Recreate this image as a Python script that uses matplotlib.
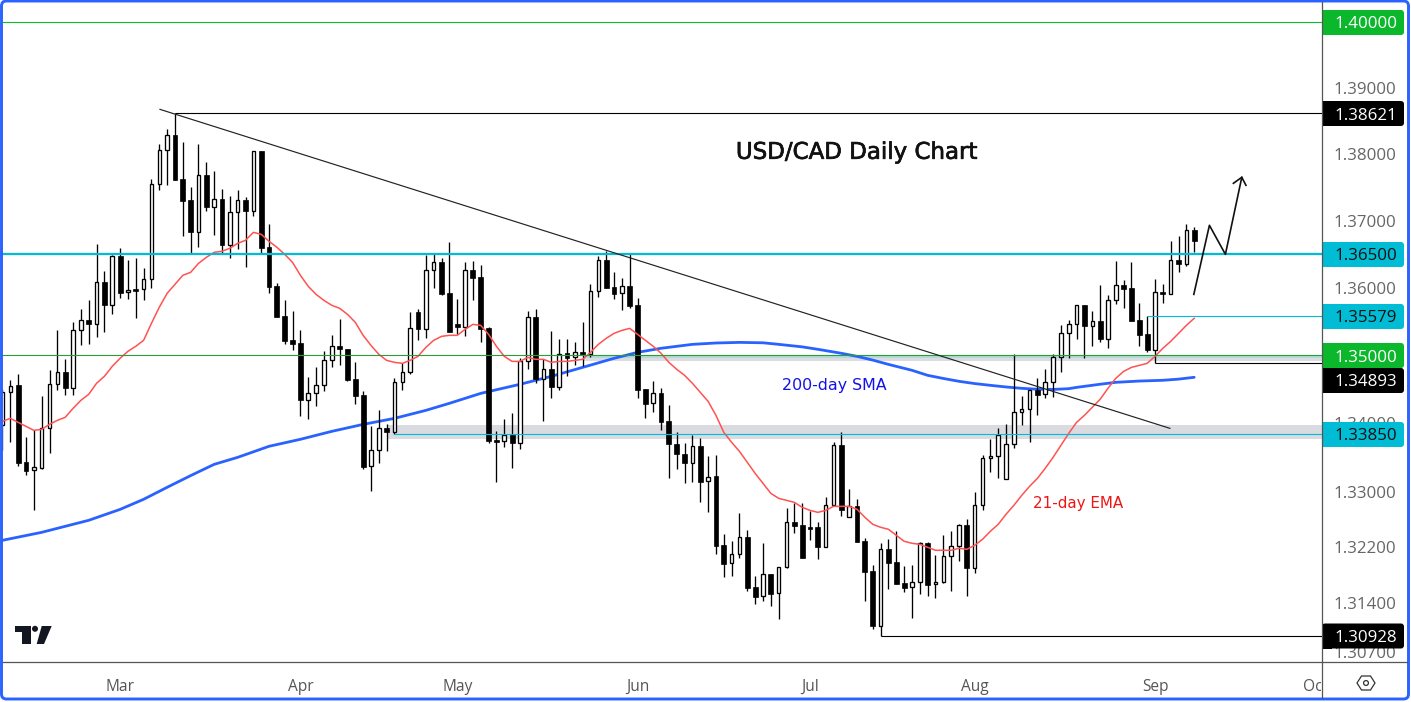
import matplotlib
matplotlib.use("Agg")
import matplotlib.pyplot as plt
import matplotlib.patheffects as pe
import numpy as np
from matplotlib.patches import FancyBboxPatch, Rectangle, Polygon, Circle
from matplotlib.transforms import Bbox, IdentityTransform
from matplotlib.ticker import NullLocator

opens = [1.33973,1.34456,1.34559,1.33433,1.33317,1.33346,1.33929,1.34574,1.34750,1.34515,
1.35368,1.35517,1.35457,1.36080,1.35739,1.36466,1.35931,1.35975,1.35975,1.36125,
1.37543,1.38054,1.38280,1.37618,1.37302,1.36824,1.37678,1.37197,1.37317,1.36630,
1.37123,1.37302,1.37138,1.38039,1.36601,1.36020,1.35577,1.35221,1.35177,1.34339,
1.34441,1.34559,1.34926,1.35133,1.35089,1.34647,1.34412,1.33375,1.33608,1.33929,
1.33871,1.34603,1.34750,1.35635,1.35383,1.36258,1.36376,1.35916,1.35457,1.35413,
1.36258,1.36155,1.35398,1.33754,1.33739,1.33827,1.33710,1.34911,1.35562,1.34647,
1.34794,1.34529,1.35030,1.34970,1.35044,1.35015,1.35945,1.36406,1.36005,1.35916,
1.36020,1.35739,1.34499,1.34295,1.34441,1.34032,1.33696,1.33550,1.33418,1.33667,
1.33157,1.33230,1.32231,1.31971,1.32101,1.32346,1.31626,1.31497,1.31812,1.31540,
1.31913,1.32563,1.32520,1.32491,1.32491,1.32202,1.32809,1.33681,1.32635,1.32794,
1.32289,1.31856,1.31067,1.32173,1.31985,1.31684,1.31626,1.31698,1.32260,1.31669,
1.31698,1.32072,1.32217,1.32520,1.31899,1.32809,1.33491,1.33520,1.33186,1.33696,
1.34163,1.34207,1.34485,1.34427,1.34603,1.34970,1.35324,1.35457,1.35739,1.35428,
1.35502,1.35236,1.35812,1.36035,1.35990,1.35517,1.35309,1.35074,1.35931,1.35901,
1.36406,1.36347,1.36854]
highs = [1.34499,1.34633,1.34720,1.33798,1.33900,1.34398,1.34779,1.35368,1.34941,1.35487,
1.35680,1.35812,1.36645,1.36243,1.36481,1.36586,1.36406,1.36436,1.36288,1.37618,
1.38144,1.38370,1.38621,1.38174,1.37497,1.38144,1.37873,1.37738,1.37467,1.37362,
1.37452,1.37347,1.38039,1.38039,1.36944,1.36065,1.35812,1.35650,1.35368,1.34677,
1.34823,1.35059,1.35295,1.35532,1.35089,1.34897,1.34470,1.33958,1.34192,1.33987,
1.34662,1.34882,1.35635,1.35680,1.36481,1.36511,1.36436,1.36675,1.35827,1.36376,
1.36391,1.36332,1.35413,1.33885,1.34061,1.34148,1.34956,1.35650,1.35680,1.34941,
1.35354,1.35236,1.35236,1.35191,1.35487,1.36050,1.36466,1.36541,1.36228,1.36140,
1.36511,1.35842,1.34499,1.34618,1.34515,1.34265,1.33871,1.33710,1.33827,1.33783,
1.33520,1.33535,1.32389,1.32289,1.32693,1.32447,1.31784,1.32260,1.31812,1.31913,
1.32765,1.32838,1.32838,1.32722,1.32563,1.32925,1.33725,1.33871,1.33041,1.32896,
1.32332,1.31942,1.32260,1.32317,1.32433,1.31928,1.31942,1.32274,1.32274,1.32086,
1.32375,1.32433,1.32534,1.32606,1.32997,1.33535,1.33769,1.33929,1.33987,1.35015,
1.34398,1.34485,1.34662,1.34794,1.35015,1.35442,1.35517,1.35739,1.35739,1.35650,
1.36035,1.35886,1.36391,1.36110,1.36376,1.35769,1.35577,1.36125,1.36050,1.36690,
1.36765,1.36944,1.36899]
lows = [1.33608,1.33725,1.33375,1.33244,1.32736,1.33331,1.33564,1.34485,1.34412,1.34412,
1.35147,1.35162,1.35265,1.35339,1.35606,1.35842,1.35827,1.35547,1.35812,1.35990,
1.37452,1.37528,1.37603,1.36765,1.36511,1.36601,1.37138,1.36780,1.36511,1.36436,
1.36571,1.36303,1.37063,1.36496,1.35916,1.35562,1.35162,1.35074,1.34104,1.34061,
1.34251,1.34470,1.34823,1.34852,1.34618,1.34280,1.33331,1.33012,1.33418,1.33593,
1.33842,1.34485,1.34720,1.35221,1.35250,1.35990,1.35886,1.35339,1.35309,1.35280,
1.35812,1.35191,1.33710,1.33142,1.33652,1.33346,1.33623,1.34794,1.34589,1.34032,
1.34368,1.34485,1.34691,1.34852,1.34838,1.34970,1.35856,1.35990,1.35827,1.35665,
1.35695,1.34368,1.34075,1.34163,1.33900,1.33200,1.33331,1.33128,1.33142,1.32852,
1.32707,1.32101,1.31770,1.31784,1.32043,1.31569,1.31382,1.31426,1.31354,1.31167,
1.31899,1.32404,1.32043,1.32303,1.32029,1.32202,1.32809,1.32650,1.32635,1.32274,
1.31426,1.31024,1.30928,1.31597,1.31669,1.31554,1.31182,1.31526,1.31497,1.31469,
1.31684,1.31569,1.32000,1.31497,1.31827,1.32736,1.33288,1.33200,1.33186,1.33637,
1.33973,1.33725,1.34119,1.34368,1.34383,1.34750,1.34956,1.35236,1.34956,1.35133,
1.35191,1.35104,1.35754,1.35695,1.35502,1.35133,1.35044,1.34893,1.35769,1.35901,
1.36228,1.36317,1.36526]
closes = [1.34456,1.34544,1.33418,1.33302,1.33360,1.33929,1.34574,1.34750,1.34515,1.35368,
1.35517,1.35457,1.36080,1.35739,1.36466,1.35916,1.35960,1.35945,1.36125,1.37543,
1.38054,1.38280,1.37603,1.37287,1.36824,1.37678,1.37197,1.37317,1.36630,1.37123,
1.37302,1.37138,1.38039,1.36586,1.36005,1.35562,1.35206,1.35162,1.34339,1.34441,
1.34559,1.34926,1.35133,1.35089,1.34633,1.34398,1.33360,1.33608,1.33929,1.33871,
1.34603,1.34750,1.35398,1.35383,1.36258,1.36376,1.35901,1.35339,1.35413,1.36258,
1.36140,1.35383,1.33739,1.33725,1.33827,1.33710,1.34911,1.35562,1.34647,1.34794,
1.34529,1.35015,1.34956,1.35044,1.35015,1.35945,1.36406,1.35990,1.35901,1.36020,
1.35724,1.34485,1.34280,1.34441,1.34017,1.33696,1.33550,1.33418,1.33667,1.33142,
1.33215,1.32217,1.31956,1.32101,1.32346,1.31612,1.31483,1.31812,1.31526,1.31913,
1.32563,1.32505,1.32043,1.32462,1.32202,1.32809,1.33681,1.32736,1.32794,1.32274,
1.31841,1.31067,1.32173,1.31971,1.31669,1.31612,1.31698,1.32260,1.31655,1.31698,
1.32072,1.32217,1.32520,1.31899,1.32809,1.33491,1.33520,1.33827,1.33696,1.34163,
1.34207,1.34485,1.34412,1.34603,1.34970,1.35324,1.35457,1.35739,1.35428,1.35502,
1.35236,1.35812,1.36035,1.35975,1.35502,1.35295,1.35074,1.35931,1.35901,1.36406,
1.36347,1.36854,1.36690]

ema21 = [1.34032,1.34075,1.34017,1.33958,1.33900,1.33914,1.33987,1.34046,1.34090,1.34221,
1.34339,1.34427,1.34589,1.34691,1.34838,1.34956,1.35059,1.35133,1.35221,1.35472,
1.35710,1.35916,1.36050,1.36184,1.36228,1.36361,1.36451,1.36526,1.36541,1.36586,
1.36660,1.36705,1.36824,1.36794,1.36690,1.36601,1.36496,1.36376,1.36184,1.36020,
1.35901,1.35812,1.35739,1.35695,1.35606,1.35487,1.35295,1.35147,1.35015,1.34926,
1.34897,1.34882,1.34926,1.34985,1.35118,1.35221,1.35280,1.35295,1.35295,1.35383,
1.35457,1.35442,1.35309,1.35133,1.34985,1.34911,1.34911,1.34970,1.34941,1.34941,
1.34897,1.34911,1.34911,1.34926,1.34941,1.35044,1.35162,1.35250,1.35324,1.35368,
1.35398,1.35309,1.35221,1.35133,1.35030,1.34897,1.34794,1.34706,1.34589,1.34456,
1.34324,1.34119,1.33871,1.33725,1.33593,1.33433,1.33273,1.33128,1.32983,1.32910,
1.32881,1.32852,1.32780,1.32736,1.32707,1.32736,1.32794,1.32794,1.32794,1.32751,
1.32635,1.32534,1.32491,1.32462,1.32375,1.32289,1.32260,1.32245,1.32202,1.32159,
1.32159,1.32159,1.32188,1.32173,1.32231,1.32317,1.32433,1.32534,1.32679,1.32809,
1.32953,1.33084,1.33200,1.33346,1.33506,1.33681,1.33856,1.34017,1.34119,1.34236,
1.34354,1.34515,1.34662,1.34764,1.34823,1.34852,1.34882,1.34985,1.35104,1.35206,
1.35324,1.35442,1.35547]

sma_idx = [0,5,11,15,18,21,24,27,30,34,38,42,46,50,54,57,61,66,70,74,78,81,84,88,91,94,97,99,102,104,107,109,111,113,116,118,120,122,124,126,128,130,132,134,136,137,140,142,145,148,150,152]
sma200 = [1.32303,1.32418,1.32592,1.32750,1.32896,1.33070,1.33240,1.33404,1.33506,1.33667,1.33769,1.33885,1.33987,1.34075,1.34192,1.34295,1.34441,1.34574,1.34691,1.34823,1.34956,1.35044,1.35104,1.35162,1.35182,1.35191,1.35185,1.35162,1.35125,1.35089,1.35030,1.34985,1.34930,1.34867,1.34780,1.34706,1.34660,1.34618,1.34585,1.34559,1.34535,1.34515,1.34502,1.34499,1.34510,1.34529,1.34575,1.34603,1.34622,1.34633,1.34650,1.34677]

month_pos = [15, 38, 58, 81, 103, 124, 147, 167.5]
month_labels = ["Mar", "Apr", "May", "Jun", "Jul", "Aug", "Sep", "Oct"]
price_ticks = [1.39, 1.38, 1.37, 1.36, 1.34, 1.33, 1.322, 1.314, 1.307]

trend_x = [20.09, 148.9]
trend_y = [1.38672, 1.33929]
path_x = [151.95, 153.94, 155.98, 158.07]
path_y = [1.35901, 1.36929, 1.36496, 1.37648]
head_x = [157.0, 158.07, 158.6]
head_y = [1.37558, 1.37648, 1.37528]

W, H = 1411, 702
fig = plt.figure(figsize=(W/100, H/100), dpi=100, facecolor="white")
L, R, T, B = 2, 1322, 2, 662
ax = fig.add_axes([L/W, 1-B/H, (R-L)/W, (B-T)/H])
ax.set_yscale("log")
ax.set_xlim(-0.06, 168.3)
ax.set_ylim(1.30558, 1.40306)
ax.yaxis.set_major_locator(plt.FixedLocator(price_ticks))
ax.yaxis.set_minor_locator(NullLocator())
ax.yaxis.set_major_formatter(plt.FuncFormatter(lambda v, _: f"{v:.5f}"))
ax.yaxis.tick_right()
ax.set_xticks(month_pos, month_labels)
FONT = "Open Sans"
ax.tick_params(axis="y", length=0, pad=8, labelsize=12.2, labelcolor="#666666")
ax.tick_params(axis="x", length=0, pad=12, labelsize=11.2, labelcolor="#555555")
for lab in list(ax.get_xticklabels()) + list(ax.get_yticklabels()):
    lab.set_fontfamily(FONT)
for s in ("top", "left"):
    ax.spines[s].set_visible(False)
ax.spines["right"].set_visible(False)
ax.spines["bottom"].set_color("#555555")
ax.spines["bottom"].set_linewidth(0.9)

o, h, l, c = map(np.array, (opens, highs, lows, closes))
x = np.arange(len(o))
xr = 168.3

# zones
ax.fill_between([49, xr], 1.33775, 1.33985, color="#d9dbe1", lw=0, zorder=1)
ax.fill_between([74, xr], 1.34910, 1.35000, color="#dadce2", lw=0, zorder=1)
ax.fill_between([74, xr], 1.34955, 1.35000, color="#b2dcd3", lw=0, zorder=1.1)

ax.plot(sma_idx, sma200, color="#2962ff", lw=2.0, zorder=2, solid_capstyle="round")

ax.vlines(x, l, h, color="black", lw=0.95, zorder=3)
up = c >= o
ax.bar(x[up], (c-o)[up], bottom=o[up], width=0.45, facecolor="white", edgecolor="black", lw=0.95, zorder=3.2)
ax.bar(x[~up], (o-c)[~up], bottom=c[~up], width=0.62, facecolor="black", edgecolor="black", lw=0.5, zorder=3.2)

ax.plot(x, ema21, color="#ff5252", lw=1.1, zorder=4)

# levels
ax.hlines(1.40, -0.06, xr, color="#0bbb2f", lw=0.8, zorder=5)
ax.hlines(1.38621, 22, xr, color="black", lw=0.8, zorder=5)
ax.hlines(1.365, -0.06, xr, color="#00bcd4", lw=1.6, zorder=5)
ax.hlines(1.35579, 146, xr, color="#00bcd4", lw=0.8, zorder=5)
ax.hlines(1.35, -0.06, xr, color="#2a9d3a", lw=0.8, zorder=5)
ax.hlines(1.34893, 147, xr, color="black", lw=0.8, zorder=5)
ax.hlines(1.3385, 50, xr, color="#00bcd4", lw=0.8, zorder=5)
ax.hlines(1.30928, 112, xr, color="black", lw=0.8, zorder=5)

ax.plot(trend_x, trend_y, color="#222222", lw=0.85, zorder=5)
ax.plot(path_x, path_y, color="#111111", lw=1.2, zorder=5)
ax.plot(head_x, head_y, color="#111111", lw=1.2, zorder=5)

# annotations
ax.text(108.9, 1.38024, "USD/CAD Daily Chart", ha="center", va="center",
        fontsize=16.5, family="DejaVu Sans", color="#111111", zorder=6,
        path_effects=[pe.withStroke(linewidth=0.5, foreground="#111111")])
ax.text(106.1, 1.34559, "200-day SMA", ha="center", va="center", fontsize=11.4, family="DejaVu Sans", color="#1212e8", zorder=6)
ax.text(137.2, 1.32838, "21-day EMA", ha="center", va="center", fontsize=10.9, family="DejaVu Sans", color="#f01515", zorder=6)

# pixel helpers for the chrome of the picture
pix = IdentityTransform()
def PX(px, py):
    return px, H - py

tags = [
    (1.40000, 22.5, "#0bb82c", "white"),
    (1.38621, 113.5, "#000000", "white"),
    (1.36500, 254.5, "#00bcd4", "#111111"),
    (1.35579, 316.5, "#00bcd4", "#111111"),
    (1.33850, 434.5, "#00bcd4", "#111111"),
    (1.34893, 380.5, "#000000", "white"),
    (1.35000, 355.5, "#0bb82c", "white"),
    (1.30928, 636.0, "#000000", "white"),
]
for val, yc, bg, fg in tags:
    x0, y0 = PX(1322, yc + 12.5)
    p = FancyBboxPatch((x0 + 3, y0 + 3), 76, 19, boxstyle="round,pad=3,rounding_size=3", transform=pix,
                       fc=bg, ec="none", clip_on=False, zorder=8)
    ax.add_patch(p)
    ax.add_patch(Rectangle((x0, y0), 10, 25, transform=pix, fc=bg, ec="none", clip_on=False, zorder=8))
    ax.text(PX(1366, 0)[0], PX(0, yc)[1], f"{val:.5f}", transform=pix, ha="center", va="center_baseline",
            fontsize=12.2, family=FONT, color=fg, clip_on=False, zorder=9)

fig.canvas.draw()
oct_lab = ax.get_xticklabels()[-1]
oct_lab.set_clip_box(Bbox.from_extents(0, 0, 1321, H))
oct_lab.set_clip_on(True)

# axis line on the right
fig.add_artist(plt.Line2D([1322/W, 1322/W], [1-698/H, 1-2/H], color="#555555", lw=0.9))
fig.add_artist(plt.Line2D([1322/W, 1407/W], [1-662/H, 1-662/H], color="#555555", lw=0.9))

# logo
def poly(pts, **kw):
    fig.add_artist(Polygon([PX(*q) for q in pts], closed=True, transform=pix, **kw))
poly([(15, 626), (31, 626), (31, 644), (22, 644), (22, 632), (15, 632)], fc="#131722", ec="none")
poly([(41.7, 626), (51.7, 626), (44, 644), (36.7, 644)], fc="#131722", ec="none")
fig.add_artist(Circle(PX(35, 628.8), 3, transform=pix, fc="#131722", ec="none"))

# settings icon
poly([(1357, 683), (1361.5, 676), (1370.5, 676), (1375, 683), (1370.5, 690), (1361.5, 690)], fc="none", ec="#333333", lw=0.9)
fig.add_artist(Circle(PX(1366, 683), 2.4, transform=pix, fc="none", ec="#333333", lw=0.9))

# frame
fr = FancyBboxPatch((1.5 + 4, H - 699 + 4), 1407 - 8, 698 - 8, boxstyle="round,pad=4,rounding_size=5", transform=pix,
                    fc="none", ec="#2962ff", lw=2.1)
fig.add_artist(fr)

fig.savefig("out.png", dpi=100, facecolor="white")
